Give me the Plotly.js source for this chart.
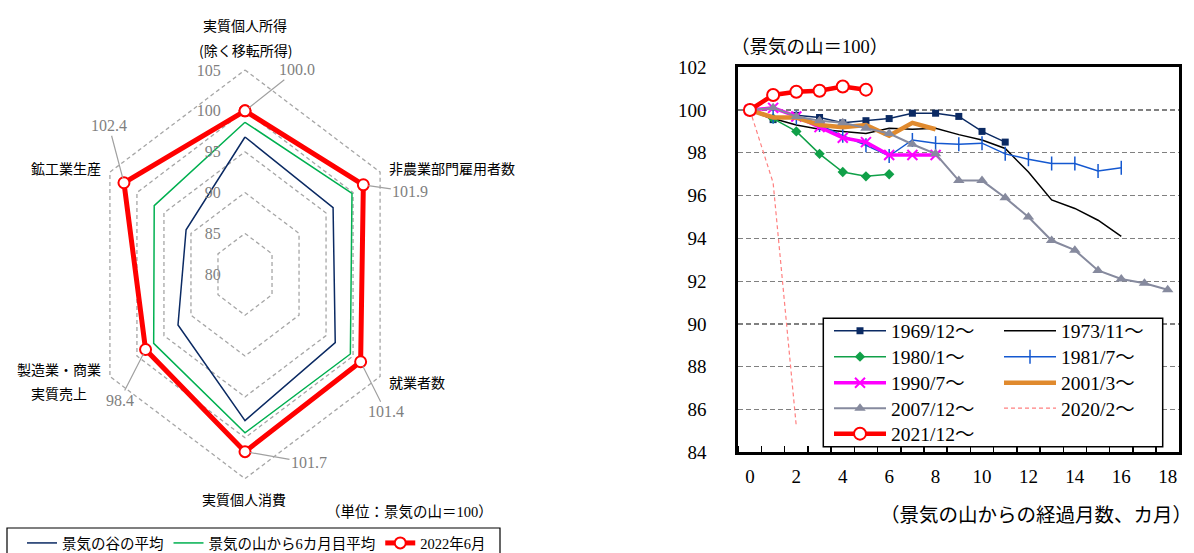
<!DOCTYPE html>
<html>
<head>
<meta charset="utf-8">
<script src="https://cdn.plot.ly/plotly-3.0.1.min.js"></script>
<style>
  html, body { margin: 0; padding: 0; background: #ffffff; }
  #chart { width: 1194px; height: 553px; }
</style>
</head>
<body>
<div id="chart"></div>
<script>
// ---- Radar: six indicators, index with business-cycle peak = 100 ----
const radarCategories = [
  '実質個人所得\n(除く移転所得)',
  '非農業部門雇用者数',
  '就業者数',
  '実質個人消費',
  '製造業・商業\n実質売上',
  '鉱工業生産'
];
const troughAvg   = [96.8, 96.3, 96.7, 97.9, 92.4, 90.9];
const sixMonthAvg = [98.6, 99.8, 99.5, 99.4, 96.9, 96.8];
const june2022    = [100.0, 101.9, 101.4, 101.7, 98.4, 102.4];
const radialTicks = [80, 85, 90, 95, 100, 105];
const radarSeriesNames = ['景気の谷の平均', '景気の山から6カ月目平均', '2022年6月'];

// ---- Line chart: index after each cycle peak (peak = 100) ----
const months = [0, 1, 2, 3, 4, 5, 6, 7, 8, 9, 10, 11, 12, 13, 14, 15, 16, 17, 18];
const monthTicks = [0, 2, 4, 6, 8, 10, 12, 14, 16, 18];
const s1969 = [100, 99.55, 99.75, 99.65, 99.4, 99.5, 99.6, 99.85, 99.85, 99.7, 99.0, 98.5];
const s1973 = [100, 99.6, 99.3, 99.1, 99.0, 98.9, 99.15, 99.1, 99.15, 98.85, 98.6, 98.2, 97.1, 95.8, 95.4, 94.85, 94.1];
const s1980 = [100, 99.6, 99.0, 97.95, 97.1, 96.9, 97.0];
const s1981 = [100, 99.7, 99.65, 99.3, 98.8, 98.35, 97.85, 98.6, 98.45, 98.4, 98.45, 97.95, 97.7, 97.5, 97.5, 97.15, 97.3];
const s1990 = [100, 100.1, 99.7, 99.2, 98.7, 98.5, 97.9, 97.9, 97.9];
const s2001 = [100, 99.65, 99.65, 99.3, 99.2, 99.3, 98.8, 99.4, 99.1];
const s2007 = [100, 100.1, 99.7, 99.5, 99.4, 99.15, 98.9, 98.4, 97.95, 96.7, 96.7, 95.9, 95.0, 93.9, 93.45, 92.5, 92.1, 91.9, 91.6];
const s2020 = [100, 96.6, 85.2];
const s2021 = [100, 100.7, 100.85, 100.9, 101.1, 100.95];
const lineNames = ['1969/12～', '1973/11～', '1980/1～', '1981/7～', '1990/7～',
                   '2001/3～', '2007/12～', '2020/2～', '2021/12～'];

// ---- helpers ----
const W = 1194, H = 553;
const px = x => x / W;          // page x (px) -> paper fraction
const py = y => 1 - y / H;      // page y (px, from top) -> paper fraction
const JP = 'Noto Sans CJK JP';
const MIX = 'Liberation Serif, Noto Sans CJK JP';
const centre = radialTicks[0];

// Project a radar series onto the flat axes: spoke i points 60°·i clockwise from the top.
function radarXY(vals, close) {
  const xs = [], ys = [];
  vals.forEach((v, i) => {
    const a = i * Math.PI / 3;
    xs.push((v - centre) * Math.sin(a));
    ys.push((v - centre) * Math.cos(a));
  });
  if (close) { xs.push(xs[0]); ys.push(ys[0]); }
  return { xs, ys };
}

const traces = [];

// dashed hexagonal rings
radialTicks.slice(1).forEach(r => {
  const p = radarXY(radarCategories.map(() => r), true);
  traces.push({
    type: 'scatter', mode: 'lines', x: p.xs, y: p.ys, xaxis: 'x', yaxis: 'y',
    line: { color: '#a6a6a6', width: 1.3, dash: '4px,3px' },
    showlegend: false, hoverinfo: 'skip'
  });
});

const pT = radarXY(troughAvg, true);
traces.push({
  type: 'scatter', mode: 'lines', name: radarSeriesNames[0], x: pT.xs, y: pT.ys,
  xaxis: 'x', yaxis: 'y', legend: 'legend',
  line: { color: '#0b2a63', width: 1.5 }
});
const pS = radarXY(sixMonthAvg, true);
traces.push({
  type: 'scatter', mode: 'lines', name: radarSeriesNames[1], x: pS.xs, y: pS.ys,
  xaxis: 'x', yaxis: 'y', legend: 'legend',
  line: { color: '#00b050', width: 1.5 }
});
const pJ = radarXY(june2022, true);
traces.push({
  type: 'scatter', mode: 'lines+markers', name: radarSeriesNames[2], x: pJ.xs, y: pJ.ys,
  xaxis: 'x', yaxis: 'y', legend: 'legend',
  line: { color: '#ff0000', width: 5 },
  marker: { symbol: 'circle', size: 11, color: '#ffffff', line: { color: '#ff0000', width: 2 } }
});

// line chart series
const lineSpecs = [
  { d: s1969, leg: 'legend2', line: { color: '#0b2a63', width: 1.5 }, marker: { symbol: 'square', size: 7, color: '#0b2a63' } },
  { d: s1973, leg: 'legend2', line: { color: '#000000', width: 1.5 } },
  { d: s1980, leg: 'legend3', line: { color: '#10a048', width: 1.5 }, marker: { symbol: 'diamond', size: 8, color: '#10a048' } },
  { d: s1981, leg: 'legend3', line: { color: '#1458d0', width: 1.5 }, marker: { symbol: 'line-ns-open', size: 10, line: { color: '#1458d0', width: 1.5 } } },
  { d: s1990, leg: 'legend4', line: { color: '#ff00ff', width: 3.5 }, marker: { symbol: 'x-thin-open', size: 10, line: { color: '#ff00ff', width: 2 } } },
  { d: s2001, leg: 'legend4', line: { color: '#e08a2e', width: 4.5 } },
  { d: s2007, leg: 'legend5', line: { color: '#868a9e', width: 2 }, marker: { symbol: 'triangle-up', size: 10, color: '#868a9e' } },
  { d: s2020, leg: 'legend5', line: { color: '#ff8080', width: 1.2, dash: '4px,3px' } },
  { d: s2021, leg: 'legend6', line: { color: '#ff0000', width: 4.5 }, marker: { symbol: 'circle', size: 12, color: '#ffffff', line: { color: '#ff0000', width: 2 } } }
];
lineSpecs.forEach((s, i) => {
  const t = {
    type: 'scatter', mode: s.marker ? 'lines+markers' : 'lines',
    name: lineNames[i], x: months.slice(0, s.d.length), y: s.d,
    xaxis: 'x2', yaxis: 'y2', legend: s.leg,
    line: s.line, cliponaxis: false
  };
  if (s.marker) t.marker = s.marker;
  traces.push(t);
});

// ---- annotations ----
const annotations = [];
// category labels around the radar (page positions in px)
const catPos = [
  { x: 245, y: 25, dy: 25, anchor: 'center' },
  { x: 387, y: 168, dy: 0, anchor: 'left' },
  { x: 387, y: 382, dy: 0, anchor: 'left' },
  { x: 244, y: 499, dy: 0, anchor: 'center' },
  { x: 59, y: 369, dy: 24, anchor: 'center' },
  { x: 66, y: 168, dy: 0, anchor: 'center' }
];
radarCategories.forEach((c, i) => {
  c.split('\n').forEach((ln, k) => {
    annotations.push({
      xref: 'paper', yref: 'paper', x: px(catPos[i].x), y: py(catPos[i].y + k * catPos[i].dy),
      xanchor: catPos[i].anchor, yanchor: 'middle', showarrow: false,
      text: ln, font: { family: JP, size: 14, color: '#000000' }
    });
  });
});
// value labels for the latest month with leader lines
const valOffsets = [[52, -41], [47, 7], [25, 50], [64, 11], [-26, 51], [-15, -57]];
const pJo = radarXY(june2022, false);
june2022.forEach((v, i) => {
  annotations.push({
    xref: 'x', yref: 'y', x: pJo.xs[i], y: pJo.ys[i],
    ax: valOffsets[i][0], ay: valOffsets[i][1],
    showarrow: true, arrowhead: 0, arrowwidth: 1.2, arrowcolor: '#a0a0a0', standoff: 5,
    text: v.toFixed(1), font: { family: 'Liberation Serif', size: 16, color: '#7f7f7f' }
  });
});
annotations.push({
  xref: 'paper', yref: 'paper', x: px(409), y: py(512), xanchor: 'center', yanchor: 'middle',
  showarrow: false, text: '（単位：景気の山＝100）', font: { family: MIX, size: 14.5, color: '#000000' }
});
annotations.push({
  xref: 'paper', yref: 'paper', x: px(729), y: py(47), xanchor: 'left', yanchor: 'middle',
  showarrow: false, text: '（景気の山＝100）', font: { family: MIX, size: 18.5, color: '#000000' }
});
annotations.push({
  xref: 'paper', yref: 'paper', x: px(1194), y: py(515), xanchor: 'right', yanchor: 'middle',
  showarrow: false, text: '（景気の山からの経過月数、カ月）', font: { family: MIX, size: 19.5, color: '#000000' }
});

// ---- layout ----
const rowY = [331, 357, 383, 408.5, 434];
const rowLegend = y => ({
  orientation: 'h', x: px(829), y: py(y), xanchor: 'left', yanchor: 'middle',
  bgcolor: 'rgba(0,0,0,0)', borderwidth: 0, itemwidth: 52,
  entrywidth: 103, entrywidthmode: 'pixels',
  font: { family: MIX, size: 19.5, color: '#000000' }
});

const layout = {
  width: W, height: H,
  margin: { l: 0, r: 0, t: 0, b: 0, autoexpand: false },
  paper_bgcolor: '#ffffff', plot_bgcolor: 'rgba(0,0,0,0)',
  hovermode: false,
  xaxis: {
    domain: [px(245 - 237.1), px(245 + 237.1)], range: [-38, 38],
    visible: false, fixedrange: true
  },
  yaxis: {
    domain: [py(245 + 274.5), py(274.5 - 245.4)], range: [-30, 30],
    anchor: 'free', position: px(245), side: 'left',
    showgrid: false, zeroline: false, showline: false,
    tickvals: radialTicks.map(v => v - centre), ticktext: radialTicks.map(String),
    ticks: 'outside', ticklen: 21, tickcolor: 'rgba(0,0,0,0)',
    tickfont: { family: 'Liberation Serif', size: 16, color: '#7f7f7f' }, fixedrange: true
  },
  xaxis2: {
    domain: [px(738.3), px(1179.3)], range: [-0.5, 18.5], anchor: 'y2',
    tickvals: monthTicks, ticktext: monthTicks.map(String),
    ticks: 'outside', ticklen: 5, tickcolor: 'rgba(0,0,0,0)',
    minor: { tick0: 0.5, dtick: 1, ticks: 'inside', ticklen: 6, tickwidth: 1.5, tickcolor: '#000000', showgrid: false },
    showgrid: false, zeroline: false, showline: true, mirror: true, linewidth: 3, linecolor: '#000000',
    tickfont: { family: 'Liberation Serif', size: 19, color: '#000000' }, fixedrange: true
  },
  yaxis2: {
    domain: [py(452.4), py(67.2)], range: [84, 102], anchor: 'x2', dtick: 2,
    ticks: 'outside', ticklen: 25, tickcolor: 'rgba(0,0,0,0)',
    showgrid: true, gridcolor: '#808080', griddash: '5px,3px', gridwidth: 1.3,
    zeroline: false, showline: true, mirror: true, linewidth: 3, linecolor: '#000000',
    tickfont: { family: 'Liberation Serif', size: 19, color: '#000000' }, fixedrange: true
  },
  legend: {
    orientation: 'h', x: px(22), y: py(527), xanchor: 'left', yanchor: 'top',
    bgcolor: 'rgba(0,0,0,0)', borderwidth: 0, itemwidth: 30,
    font: { family: MIX, size: 14.5, color: '#000000' }
  },
  legend2: rowLegend(rowY[0]),
  legend3: rowLegend(rowY[1]),
  legend4: rowLegend(rowY[2]),
  legend5: rowLegend(rowY[3]),
  legend6: rowLegend(rowY[4]),
  shapes: [{
    type: 'rect', xref: 'paper', yref: 'paper', layer: 'above',
    x0: px(823.3), x1: px(1162.7), y0: py(446.7), y1: py(318.3),
    fillcolor: '#ffffff', line: { color: '#000000', width: 1.5 }
  }, {
    type: 'rect', xref: 'paper', yref: 'paper', layer: 'above',
    x0: px(7), x1: px(500), y0: py(565), y1: py(528),
    fillcolor: '#ffffff', line: { color: '#000000', width: 1.2 }
  }],
  annotations: annotations,
  showlegend: true
};

Plotly.newPlot('chart', traces, layout, { staticPlot: true, displayModeBar: false });
</script>
</body>
</html>
